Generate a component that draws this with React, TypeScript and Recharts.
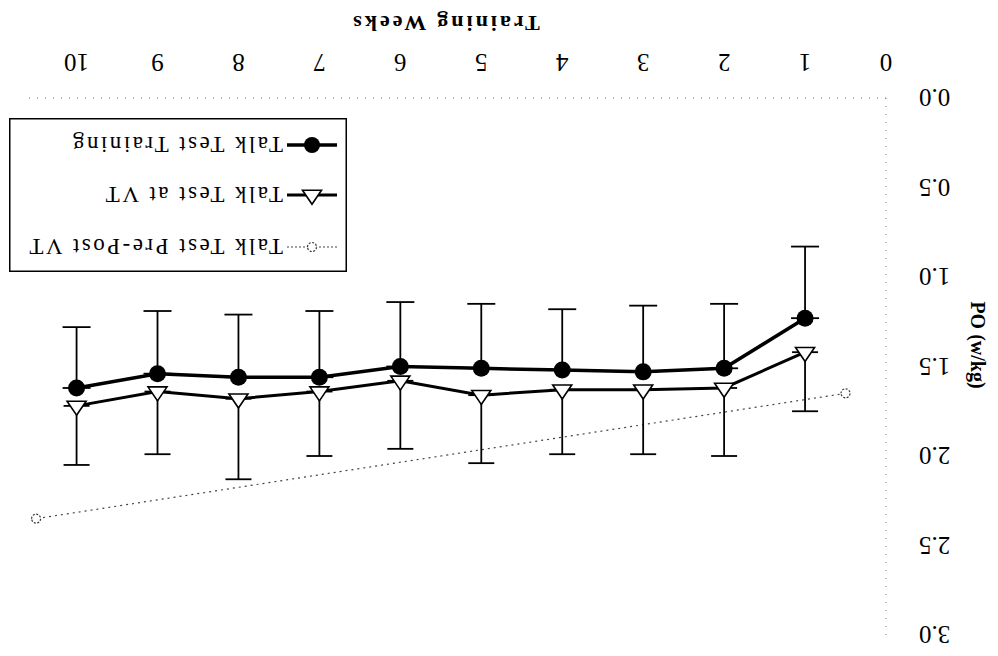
import React from "react";
import { LineChart, Line, XAxis, YAxis, ErrorBar, Legend } from "recharts";

const FONT = "'Liberation Serif', 'Times New Roman', serif";

const weeks = [1, 2, 3, 4, 5, 6, 7, 8, 9, 10];
const trainingPO = [1.23, 1.51, 1.53, 1.52, 1.51, 1.5, 1.56, 1.56, 1.54, 1.62];
const trainingSD = [0.4, 0.36, 0.37, 0.34, 0.36, 0.36, 0.37, 0.35, 0.35, 0.34];
const vtPO = [1.42, 1.62, 1.63, 1.63, 1.66, 1.58, 1.64, 1.68, 1.64, 1.72];
const vtSD = [0.33, 0.38, 0.36, 0.36, 0.38, 0.38, 0.36, 0.45, 0.35, 0.33];
const prePostWeeks = [0.5, 10.5];
const prePostPO = [1.65, 2.35];

const xTicks = [0, 1, 2, 3, 4, 5, 6, 7, 8, 9, 10];
const yTicks = [0, 0.5, 1, 1.5, 2, 2.5, 3];
const seriesNames = ["Talk Test Pre-Post VT", "Talk Test at VT", "Talk Test Training"];

const rows = weeks.map((week, i) => ({
  week,
  training: trainingPO[i],
  trainingErr: [trainingSD[i], 0],
  vt: vtPO[i],
  vtErr: [0, vtSD[i]],
}));

const prePostRows = prePostWeeks.map((week, i) => ({ week, prePost: prePostPO[i] }));

function Triangle({ cx, cy }: { cx: number; cy: number }) {
  const pts = `${cx},${cy - 9.3} ${cx - 9.5},${cy + 4.7} ${cx + 9.5},${cy + 4.7}`;
  return <polygon points={pts} fill="#fff" stroke="#000" strokeWidth={1.6} />;
}

function SmallCircle({ cx, cy }: { cx: number; cy: number }) {
  return (
    <circle cx={cx} cy={cy} r={4.5} fill="#fff" stroke="#333" strokeWidth={1.2} strokeDasharray="2 1.5" />
  );
}

function LegendBox() {
  const items = [
    { name: seriesNames[0], y: 25, kind: "prepost" },
    { name: seriesNames[1], y: 77, kind: "vt" },
    { name: seriesNames[2], y: 127, kind: "training" },
  ];
  return (
    <svg width={338} height={154} style={{ display: "block" }}>
      <rect x={0.75} y={0.75} width={336.5} height={152.5} fill="#fff" stroke="#000" strokeWidth={1.5} />
      {items.map((it) => (
        <g key={it.name}>
          {it.kind === "prepost" && (
            <>
              <line x1={10} x2={60} y1={it.y} y2={it.y} stroke="#444" strokeWidth={1.2} strokeDasharray="2 2" />
              <SmallCircle cx={35} cy={it.y} />
            </>
          )}
          {it.kind === "vt" && (
            <>
              <line x1={10} x2={60} y1={it.y} y2={it.y} stroke="#000" strokeWidth={3} />
              <Triangle cx={35} cy={it.y} />
            </>
          )}
          {it.kind === "training" && (
            <>
              <line x1={10} x2={60} y1={it.y} y2={it.y} stroke="#000" strokeWidth={3.5} />
              <circle cx={35} cy={it.y} r={8} fill="#000" />
            </>
          )}
          <text x={64} y={it.y + 7.6} fontFamily={FONT} fontSize={23} letterSpacing={2.5} fill="#000">
            {it.name}
          </text>
        </g>
      ))}
    </svg>
  );
}

export default function App() {
  return (
    <div
      style={{
        position: "absolute",
        left: 0,
        top: 0,
        width: 998,
        height: 656,
        background: "#fff",
        transform: "rotate(180deg)",
      }}
    >
      <LineChart width={998} height={656} margin={{ top: 21, right: 28, bottom: 0, left: 0 }}>
        <XAxis
          type="number"
          dataKey="week"
          domain={[0, 10.6]}
          ticks={xTicks}
          allowDataOverflow
          height={98}
          tickLine={false}
          tickMargin={20}
          axisLine={{ stroke: "#777", strokeDasharray: "1 7" }}
          tick={{ fontSize: 25, fill: "#000", fontFamily: FONT }}
          label={() => (
            <text x={553} y={640} textAnchor="middle" fontFamily={FONT} fontSize={22} fontWeight="bold" letterSpacing={3}>
              Training Weeks
            </text>
          )}
        />
        <YAxis
          type="number"
          domain={[0, 3]}
          ticks={yTicks}
          width={112}
          tickLine={false}
          tickMargin={27}
          tickFormatter={(v: number) => v.toFixed(1)}
          axisLine={{ stroke: "#777", strokeDasharray: "1 7" }}
          tick={{ fontSize: 25, fill: "#000", fontFamily: FONT }}
          label={() => (
            <text
              x={20}
              y={311}
              transform="rotate(-90 20 311)"
              textAnchor="middle"
              dominantBaseline="central"
              fontFamily={FONT}
              fontSize={20}
              fontWeight="bold"
            >
              PO (w/kg)
            </text>
          )}
        />
        <Legend
          layout="horizontal"
          verticalAlign="middle"
          align="center"
          width={338}
          height={154}
          wrapperStyle={{ left: 651, top: 384, width: 338, height: 154 }}
          content={() => <LegendBox />}
        />
        <Line
          data={prePostRows}
          dataKey="prePost"
          name={seriesNames[0]}
          stroke="#444"
          strokeWidth={1.2}
          strokeDasharray="2 4"
          isAnimationActive={false}
          dot={(p: any) => <SmallCircle key={`pp-${p.index}`} cx={p.cx} cy={p.cy} />}
        />
        <Line
          data={rows}
          dataKey="vt"
          name={seriesNames[1]}
          stroke="#000"
          strokeWidth={3}
          isAnimationActive={false}
          dot={(p: any) => <Triangle key={`vt-${p.index}`} cx={p.cx} cy={p.cy} />}
        >
          <ErrorBar dataKey="vtErr" direction="y" width={13} stroke="#000" strokeWidth={1.8} />
        </Line>
        <Line
          data={rows}
          dataKey="training"
          name={seriesNames[2]}
          stroke="#000"
          strokeWidth={3.5}
          isAnimationActive={false}
          dot={(p: any) => <circle key={`tr-${p.index}`} cx={p.cx} cy={p.cy} r={8.5} fill="#000" />}
        >
          <ErrorBar dataKey="trainingErr" direction="y" width={14} stroke="#000" strokeWidth={1.8} />
        </Line>
      </LineChart>
    </div>
  );
}
